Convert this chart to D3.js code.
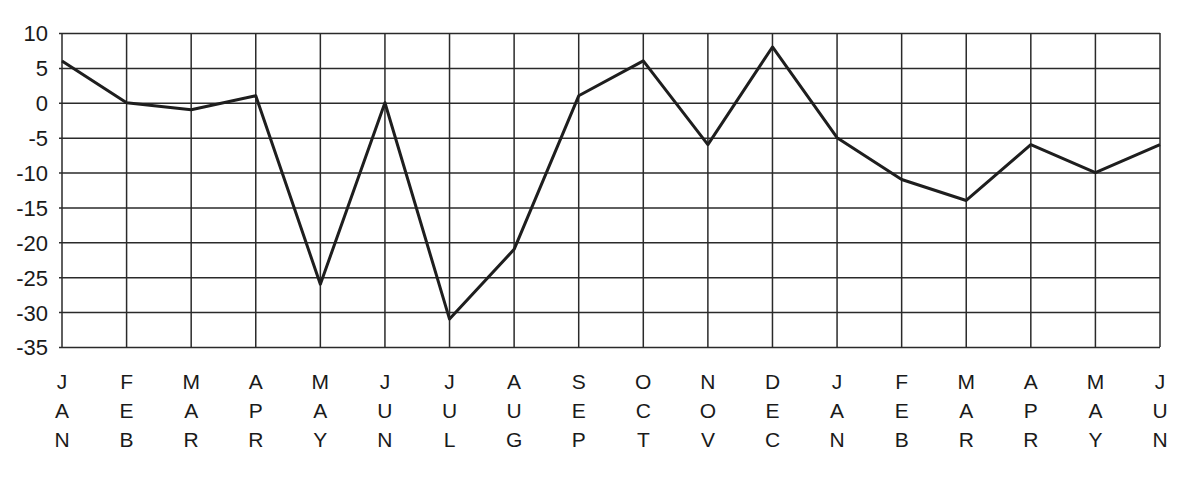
<!DOCTYPE html>
<html>
<head>
<meta charset="utf-8">
<script src="https://cdn.jsdelivr.net/npm/d3@7"></script>
<style>
    body { margin: 0; background: #fff; }
    #chart { width: 1200px; height: 480px; }
    text { font-family: "Liberation Sans", Arial, sans-serif; fill: #1a1a1a; }
</style>
</head>
<body>
<div id="chart"></div>
<script>

// month labels (two half-years, Jan..Dec then Jan..Jun)
let months = ["JAN", "FEB", "MAR", "APR", "MAY", "JUN", "JUL", "AUG", "SEP", "OCT", "NOV", "DEC",
              "JAN", "FEB", "MAR", "APR", "MAY", "JUN"];
let values = [6, 0, -1, 1, -26, 0, -31, -21, 1, 6, -6, 8, -5, -11, -14, -6, -10, -6];
let yTicks = [10, 5, 0, -5, -10, -15, -20, -25, -30, -35];

let margin = {top: 33, right: 40, bottom: 133, left: 62};
let width = 1200 - margin.left - margin.right;
let height = 480 - margin.top - margin.bottom;

let svg = d3.select("#chart").append("svg")
    .attr("width", 1200)
    .attr("height", 480)
    .append("g")
    .attr("transform", `translate(${margin.left}, ${margin.top})`);

// scales
let x = d3.scalePoint()
    .domain(d3.range(months.length))
    .range([0, width]);

let y = d3.scaleLinear()
    .domain([-35, 10])
    .range([height, 0]);

// horizontal grid + y labels (plain hyphen for minus, like the original)
let yAxis = d3.axisLeft(y)
    .tickValues(yTicks)
    .tickSize(-width)
    .tickPadding(14)
    .tickFormat(d => String(d));

svg.append("g")
    .attr("class", "y-axis")
    .call(yAxis)
    .call(g => g.select(".domain").remove())
    .call(g => g.selectAll("line")
        .attr("x1", -3)
        .attr("stroke", "#2a2a2a")
        .attr("stroke-width", 1.5))
    .call(g => g.selectAll("text")
        .attr("font-size", 22)
        .attr("dy", "0.36em"));

// vertical grid
svg.append("g")
    .selectAll("line")
    .data(d3.range(months.length))
    .join("line")
    .attr("x1", d => x(d))
    .attr("x2", d => x(d))
    .attr("y1", 0)
    .attr("y2", height)
    .attr("stroke", "#2a2a2a")
    .attr("stroke-width", 1.5);

// stacked month letters
let labels = svg.append("g")
    .selectAll("g")
    .data(months)
    .join("g")
    .attr("transform", (d, i) => `translate(${x(i)}, ${height + 34})`);

labels.selectAll("text")
    .data(d => d.split(""))
    .join("text")
    .attr("y", (d, i) => i * 29)
    .attr("dy", "0.36em")
    .attr("text-anchor", "middle")
    .attr("font-size", 21)
    .text(d => d);

// data line
let line = d3.line()
    .x((d, i) => x(i))
    .y(d => y(d));

svg.append("path")
    .datum(values)
    .attr("fill", "none")
    .attr("stroke", "#1e1e1e")
    .attr("stroke-width", 3)
    .attr("stroke-linejoin", "round")
    .attr("d", line);

</script>
</body>
</html>
